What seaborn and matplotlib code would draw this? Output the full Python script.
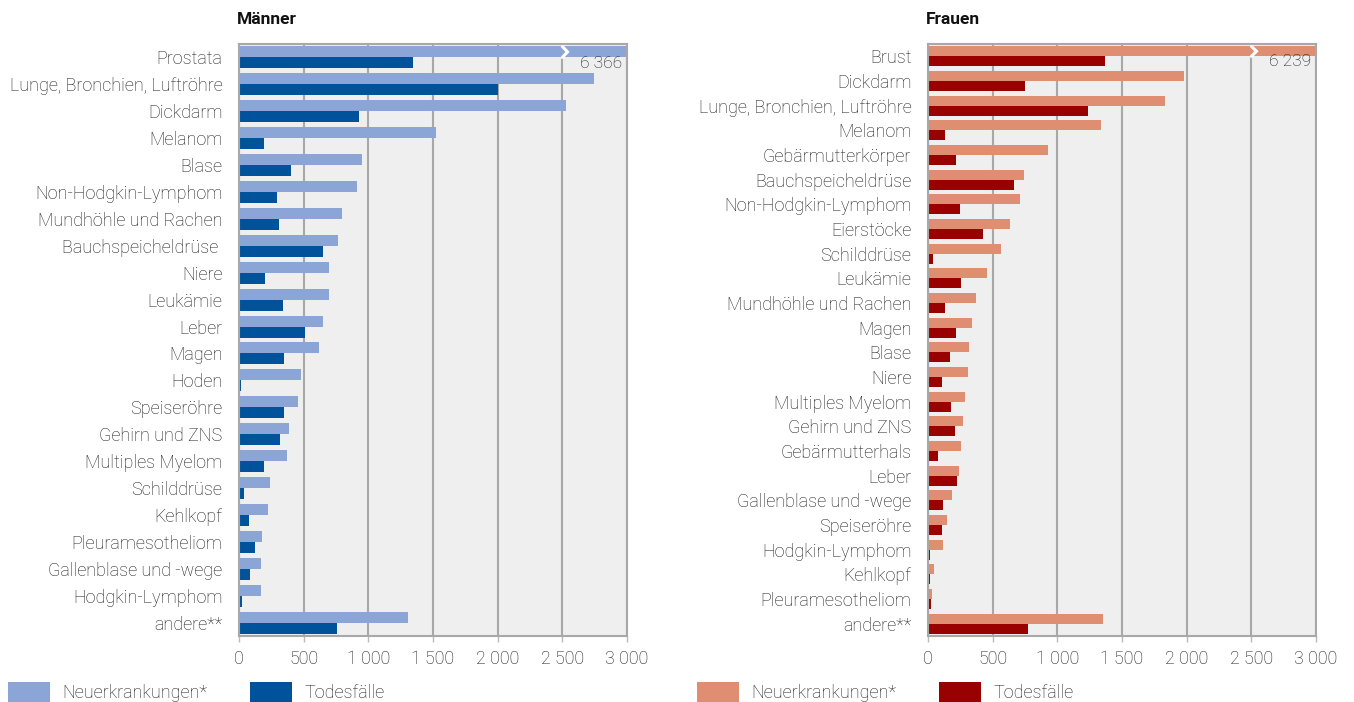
import numpy as np
import pandas as pd
import matplotlib
matplotlib.use("Agg")
import matplotlib.pyplot as plt
import seaborn as sns

# Männer
men_sites = ["Prostata", "Lunge, Bronchien, Luftröhre", "Dickdarm", "Melanom", "Blase",
             "Non-Hodgkin-Lymphom", "Mundhöhle und Rachen", "Bauchspeicheldrüse ", "Niere",
             "Leukämie", "Leber", "Magen", "Hoden", "Speiseröhre", "Gehirn und ZNS",
             "Multiples Myelom", "Schilddrüse", "Kehlkopf", "Pleuramesotheliom",
             "Gallenblase und -wege", "Hodgkin-Lymphom", "andere**"]
men_new = [6366, 2745, 2528, 1523, 951, 913, 797, 766, 696, 696, 650, 619, 480,
           456, 387, 371, 240, 224, 178, 170, 170, 1307]
men_deaths = [1346, 2003, 925, 193, 402, 294, 309, 650, 201, 340, 510, 348, 15,
              348, 317, 193, 39, 77, 124, 85, 23, 758]

# Frauen
women_sites = ["Brust", "Dickdarm", "Lunge, Bronchien, Luftröhre", "Melanom",
               "Gebärmutterkörper", "Bauchspeicheldrüse", "Non-Hodgkin-Lymphom", "Eierstöcke",
               "Schilddrüse", "Leukämie", "Mundhöhle und Rachen", "Magen", "Blase", "Niere",
               "Multiples Myelom", "Gehirn und ZNS", "Gebärmutterhals", "Leber",
               "Gallenblase und -wege", "Speiseröhre", "Hodgkin-Lymphom", "Kehlkopf",
               "Pleuramesotheliom", "andere**"]
women_new = [6239, 1979, 1832, 1338, 928, 742, 711, 634, 564, 456, 371, 340, 317, 309,
             286, 270, 255, 240, 186, 147, 116, 46, 31, 1353]
women_deaths = [1369, 750, 1237, 131, 216, 665, 247, 425, 39, 255, 131, 216, 170, 108,
                178, 209, 77, 224, 116, 108, 15, 15, 23, 773]

series = ["Neuerkrankungen*", "Todesfälle"]
ticks = [0, 500, 1000, 1500, 2000, 2500, 3000]
tick_labels = ["0", "500", "1 000", "1 500", "2 000", "2 500", "3 000"]


def long_frame(sites, new, deaths):
    return pd.DataFrame({
        "site": sites + sites,
        "value": new + deaths,
        "type": [series[0]] * len(sites) + [series[1]] * len(sites),
    })


sns.set_theme(style="white")
plt.rcParams["font.family"] = ["Roboto", "DejaVu Sans"]
plt.rcParams["font.weight"] = "light"
txt = "#1A1A1A"
plt.rcParams["text.color"] = txt

W, H = 1354, 702
fig = plt.figure(figsize=(W / 100, H / 100), dpi=100)

panels = [
    ("Männer", men_sites, men_new, men_deaths, ["#8BA5D6", "#00539B"], 239, "6 366"),
    ("Frauen", women_sites, women_new, women_deaths, ["#E08E72", "#990000"], 928, "6 239"),
]

for title, sites, new, deaths, colours, left_px, top_label in panels:
    ax = fig.add_axes([left_px / W, 1 - 636 / H, 388 / W, 592 / H])
    df = long_frame(sites, new, deaths)
    sns.barplot(data=df, x="value", y="site", hue="type", orient="h",
                palette=colours, width=0.82, gap=0, saturation=1,
                linewidth=0, ax=ax, legend=True)
    ax.set_facecolor("#EFEFEF")
    ax.set_xlim(0, 3000)
    ax.set_ylim(len(sites) - 0.5, -0.5)
    ax.set_axisbelow(True)
    ax.xaxis.grid(True, color="#A8A8A8", linewidth=1.5)
    ax.set_xticks(ticks)
    ax.set_xticklabels(tick_labels)
    ax.tick_params(axis="x", length=4, width=1, color="#BBBBBB", labelsize=12.8,
                   labelcolor=txt, pad=6, bottom=True)
    ax.tick_params(axis="y", length=0, labelsize=13, labelcolor=txt, pad=12)
    ax.set_xlabel("")
    ax.set_ylabel("")
    for side in ["top", "bottom", "left", "right"]:
        ax.spines[side].set_color("#A8A8A8")
        ax.spines[side].set_linewidth(1.5)

    # broken first bar: white chevron and value label
    ax.plot([2500, 2540, 2500], [-0.41, -0.205, 0.0], color="white", linewidth=2.2,
            solid_joinstyle="miter")
    ax.text(2965, 0.22, top_label, ha="right", va="center", fontsize=12.5, color=txt)

    handles, labels = ax.get_legend_handles_labels()
    ax.get_legend().remove()
    fig.legend(handles, labels, loc="center left",
               bbox_to_anchor=((left_px - 231) / W, 1 - 692 / H),
               ncol=2, frameon=False, fontsize=13, handlelength=2.3, handleheight=1.4,
               handletextpad=0.7, columnspacing=2.4, borderpad=0, borderaxespad=0)

    fig.text((left_px - 2) / W, 1 - 20 / H, title, ha="left", va="center",
             fontsize=12.5, fontweight="bold", color="#111111")

fig.savefig("out.png", dpi=100)
